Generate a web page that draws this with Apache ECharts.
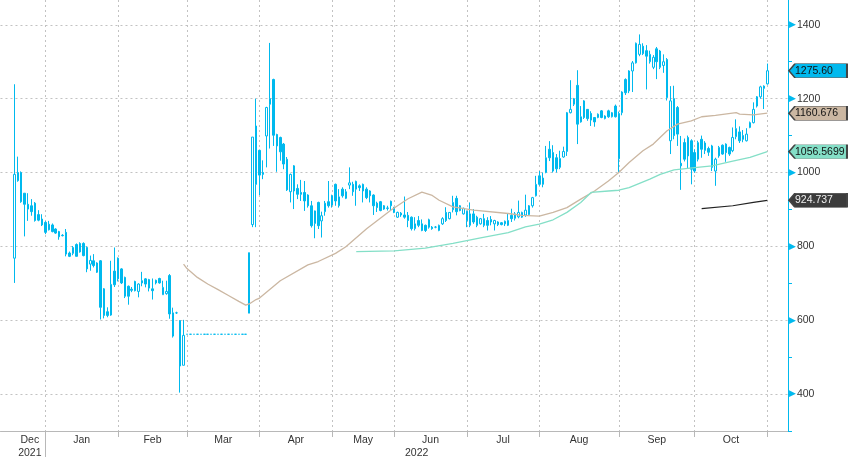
<!DOCTYPE html>
<html><head><meta charset="utf-8">
<script src="https://cdn.jsdelivr.net/npm/echarts@6/dist/echarts.min.js"></script>
<style>html,body{margin:0;padding:0;background:#fff}#c{width:849px;height:459px}</style>
</head><body><div id="c"></div><script>
// ---- data ----
const monthNames = ['Dec','Jan','Feb','Mar','Apr','May','Jun','Jul','Aug','Sep','Oct','Nov'];
const monthStart = [0, 9, 30, 50, 71, 92, 110, 131, 152, 175, 197, 218]; // first bar of each month
const yearNames = ['2021','2022'];
const yearStart = [0, 9];
const yLabelValues = [400, 600, 800, 1000, 1200, 1400];

// daily bars: [open, close, low, high]
const ohlc = [
[768,995,701,1239],[1000,978,975,1043],[1000,921,918,1003],[944,914,827,944],[914,901,869,944],
[910,894,883,928],[917,870,867,920],[886,871,868,898],[874,858,855,887],[865,838,833,868],
[860,845,843,869],[858,840,838,862],[847,836,834,849],[840,826,818,842],[830,829,827,833],
[838,779,773,847],[782,773,771,786],[781,797,776,801],[805,773,773,808],[808,785,783,811],
[808,775,773,811],[797,739,730,800],[752,762,734,775],[761,748,743,779],[755,730,728,757],
[761,635,602,763],[685,613,605,687],[623,613,608,635],[614,697,612,761],[733,696,690,797],
[768,712,705,770],[739,701,698,741],[716,665,660,718],[692,665,642,694],[684,681,676,690],
[705,680,678,707],[678,698,662,700],[707,701,692,731],[712,698,689,714],[710,687,678,712],
[685,680,656,713],[708,701,697,710],[713,701,699,715],[669,689,669,707],[672,678,669,707],
[721,617,604,725],[557,620,553,634],[620,620,617,623],[599,476,404,600],[478,559,478,601],
[562,562,562,562],[562,562,562,562],[562,562,562,562],[562,562,562,562],[562,562,562,562],
[562,562,562,562],[562,562,562,562],[562,562,562,562],[562,562,562,562],[562,562,562,562],
[562,562,562,562],[562,562,562,562],[562,562,562,562],[562,562,562,562],[562,562,562,562],
[562,562,562,562],[562,562,562,562],[562,562,562,562],
[619,783,619,783],[859,1096,852,1096],[1126,968,852,1200],[1060,993,939,1062],[1000,995,982,1033],
[1099,1176,1014,1178],[1200,1185,1065,1351],[1252,1101,1072,1254],[1103,1072,1002,1105],[1095,1056,1032,1097],
[1077,1023,1009,1080],[1036,953,950,1042],[948,995,919,997],[1018,950,901,1020],[957,941,928,968],
[946,941,923,980],[946,923,896,977],[939,910,905,941],[910,856,851,923],[862,896,822,897],
[919,856,847,921],[869,883,824,894],[894,917,883,923],[921,910,905,977],[937,912,905,940],
[968,923,910,970],[910,934,905,955],[955,937,932,960],[930,948,928,955],[966,972,955,1014],
[968,948,937,975],[976,955,910,978],[964,959,950,968],[968,950,919,970],[955,932,928,960],
[950,937,919,952],[939,910,885,941],[917,905,893,921],[921,897,895,923],[910,901,899,912],
[904,903,897,910],[922,910,897,924],[905,892,890,907],[879,892,877,894],[890,885,880,893],
[885,879,875,935],[884,870,852,893],[879,848,843,881],[848,861,843,879],[870,857,852,882],
[861,843,841,873],[857,843,839,859],[872,852,848,875],[852,848,845,855],[852,852,849,855],
[843,857,841,859],[861,875,858,879],[892,870,866,906],[875,892,873,893],[899,919,892,937],
[930,894,884,937],[910,897,895,912],[888,903,886,905],[895,870,852,897],[857,888,852,919],
[888,866,861,901],[879,857,852,883],[861,875,859,877],[875,857,852,888],[870,857,843,879],
[873,866,857,882],[861,870,843,872],[866,859,855,868],[864,859,857,866],[861,868,855,870],
[857,870,855,888],[884,875,866,902],[876,888,870,893],[880,892,876,924],[879,892,877,894],
[885,898,880,940],[886,910,884,912],[910,932,905,934],[937,968,935,991],[991,968,964,1004],
[968,985,960,1000],[1000,1040,998,1072],[1063,1040,1031,1085],[1054,1004,1000,1074],[1040,1010,1000,1050],
[1014,1038,1009,1059],[1042,1057,1040,1070],[1057,1162,1045,1164],[1162,1171,1160,1250],[1185,1200,1180,1202],
[1236,1131,1077,1277],[1137,1151,1135,1180],[1194,1149,1145,1196],[1171,1146,1140,1172],[1160,1142,1126,1166],
[1149,1137,1124,1150],[1149,1158,1147,1160],[1167,1149,1147,1169],[1146,1153,1144,1155],[1167,1151,1148,1170],
[1151,1162,1149,1164],[1180,1151,1149,1184],[1037,1160,1000,1165],[1162,1218,1155,1220],[1252,1216,1210,1255],
[1221,1275,1215,1277],[1275,1297,1218,1302],[1297,1350,1295,1352],[1320,1347,1315,1374],[1342,1322,1318,1350],
[1330,1315,1225,1345],[1300,1320,1295,1330],[1285,1312,1280,1318],[1335,1300,1253,1340],[1329,1285,1280,1332],
[1290,1300,1270,1320],[1306,1203,1195,1310],[1086,1194,1050,1234],[1200,1100,1090,1235],[1176,1104,1072,1180],
[1025,1018,953,1099],[1081,1036,1030,1092],[1095,1045,1010,1100],[1086,1009,968,1090],[1054,1004,999,1063],
[1036,1081,1030,1086],[1090,1063,1040,1100],[1080,1060,1050,1085],[1065,1055,1045,1070],[1072,1014,1004,1075],
[1004,1036,964,1040],[1045,1068,1040,1072],[1074,1050,1048,1076],[1077,1054,1029,1079],[1068,1050,1045,1070],
[1059,1095,1055,1122],[1097,1119,1090,1144],[1110,1086,1080,1125],[1100,1090,1082,1115],[1086,1104,1084,1120],
[1122,1135,1120,1138],[1135,1171,1133,1190],[1205,1180,1176,1207],[1205,1232,1200,1235],[1234,1228,1172,1236],
[1240,1275.6,1238,1295]
];

// moving averages: [bar index, value]
const ma50 = [[49,752],[50,740],[53,716],[56,698],[59,683],[62,667],[65,651],[67,641],[68,644],[70,656],
[71,660],[77,707],[85,750],[88,759],[93,781],[96,799],[102,848],[109,898],[114,929],[118,947],[121,938],
[123,925],[127,907],[133,898],[143,889],[147,884],[152,882],[156,892],[160,905],[164,928],[168,950],
[172,977],[175,1000],[178,1027],[182,1059],[185,1077],[189,1113],[192,1131],[196,1140],[199,1151],
[203,1155],[209,1162],[210,1158],[214,1156],[218,1160.676]];
const ma100 = [[99,786],[110,788],[119,795],[127,808],[135,823],[143,837],[148,853],[152,860],[156,872],
[160,892],[164,919],[167,946],[172,950],[175,952],[178,959],[184,982],[187,995],[191,1007],[197,1013],
[202,1018],[208,1031],[213,1041],[218,1056.5699]];
const ma200 = [[199,902],[208,910],[214,919],[218,924.737]];
const lastTags = {close:'1275.60', ma50:'1160.676', ma100:'1056.5699', ma200:'924.737'};

// ---- build ----
const CYAN = '#00B9EE', TAN = '#CBB7A2', MINT = '#84DFC7', BLACK = '#222222';
const GRID = '#c2c2c2';
const FONT = 'Liberation Sans';
const PADL = 4, PADR = 6;
const nBars = ohlc.length;
const cats = [];
for (let i = 0; i < PADL; i++) cats.push('');
monthStart.forEach((s, m) => {
  const e = m + 1 < monthStart.length ? monthStart[m + 1] : nBars;
  for (let k = s; k < e; k++) cats.push(monthNames[m] + ' ' + (k - s + 1));
});
for (let i = 0; i < PADR; i++) cats.push('');
const lastCat = cats.length - 1;

const gridSet = new Set(monthStart.slice(1).map(s => s + PADL));
const monthLabelAt = {};
for (let m = 0; m < monthStart.length - 1; m++) {
  const mid = (monthStart[m] + monthStart[m + 1]) / 2 + PADL;
  monthLabelAt[Math.floor(mid)] = {t: monthNames[m], half: mid % 1 !== 0};
}
const yearTickSet = new Set(yearStart.slice(1).map(s => s + PADL));
const yearLabelAt = {};
yearStart.forEach((s, y) => {
  const e = y + 1 < yearStart.length ? yearStart[y + 1] + PADL : lastCat;
  const mid = (s + PADL + e) / 2;
  yearLabelAt[Math.floor(mid)] = {t: yearNames[y], half: mid % 1 !== 0};
});

const candleData = [];
for (let i = 0; i < PADL; i++) candleData.push(['-','-','-','-']);
ohlc.forEach(d => candleData.push(d));

const toLine = arr => arr.map(p => [p[0] + PADL, p[1]]);
const endCat = cats[nBars - 1 + PADL];

function tag(value, label, bg, fg) {
  return {
    symbol: 'path://M0,7L6,0L58,0L58,14L6,14Z',
    symbolSize: [58, 14],
    symbolOffset: [50.7, 0],
    silent: true,
    data: [{coord: [endCat, value], value: label}],
    itemStyle: {color: bg, borderColor: '#444', borderWidth: 1},
    label: {show: true, position: 'insideLeft', distance: 7, formatter: '{c}',
            color: fg, fontSize: 10.5, fontFamily: FONT}
  };
}

const labelRich = {n: {fontSize: 10.5, fontFamily: FONT, color: '#333'},
                   h: {fontSize: 10.5, fontFamily: FONT, color: '#333', padding: [0,0,0,3.5]}};

const option = {
  animation: false,
  backgroundColor: '#fff',
  grid: {left: 0.48, right: 61, top: 0, bottom: 24.5, containLabel: false},
  xAxis: [{
    type: 'category', data: cats, boundaryGap: false,
    axisLine: {show: true, lineStyle: {color: '#b8b8b8', width: 1}},
    axisTick: {show: true, interval: i => gridSet.has(i), length: 6, lineStyle: {color: '#b8b8b8'}},
    splitLine: {show: true, interval: i => gridSet.has(i), lineStyle: {color: GRID, type: [2, 3], width: 1}},
    axisLabel: {interval: i => i in monthLabelAt, margin: 4,
      formatter: (v, i) => { const o = monthLabelAt[i]; return o ? (o.half ? '{h|' : '{n|') + o.t + '}' : ''; },
      rich: labelRich}
  }, {
    type: 'category', data: cats, boundaryGap: false, position: 'bottom',
    axisLine: {show: false},
    axisTick: {show: true, interval: i => yearTickSet.has(i), length: 26, lineStyle: {color: '#b8b8b8'}},
    splitLine: {show: false},
    axisLabel: {interval: i => i in yearLabelAt, margin: 17,
      formatter: (v, i) => { const o = yearLabelAt[i]; return o ? (o.half ? '{h|' : '{n|') + o.t + '}' : ''; },
      rich: labelRich}
  }],
  yAxis: {
    type: 'value', position: 'right', min: 300, max: 1467.2, interval: 100,
    axisLine: {show: true, lineStyle: {color: CYAN, width: 1}},
    axisTick: {show: true, length: 4, lineStyle: {color: CYAN}},
    splitLine: {show: true, lineStyle: {color: ['rgba(0,0,0,0)', GRID], type: [2, 3], width: 1}},
    axisLabel: {margin: 1, showMaxLabel: false,
      formatter: v => yLabelValues.includes(v) ? '{t|▶}{n|' + v + '}' : '',
      rich: {t: {color: CYAN, fontSize: 9, fontFamily: 'DejaVu Sans', padding: [0, 1, 0, 0]},
             n: {color: '#333', fontSize: 10.5, fontFamily: FONT}}}
  },
  series: [{
    type: 'candlestick', data: candleData, barWidth: 2,
    itemStyle: {color: '#ffffff', color0: CYAN, borderColor: CYAN, borderColor0: CYAN, borderColorDoji: CYAN, borderWidth: 1},
    markPoint: tag(ohlc[nBars - 1][1], lastTags.close, CYAN, '#111')
  }, {
    type: 'line', data: toLine(ma50), showSymbol: false, symbol: 'none',
    lineStyle: {color: TAN, width: 1.3}, z: 3,
    markPoint: tag(ma50[ma50.length - 1][1], lastTags.ma50, TAN, '#111')
  }, {
    type: 'line', data: toLine(ma100), showSymbol: false, symbol: 'none',
    lineStyle: {color: MINT, width: 1.3}, z: 3,
    markPoint: tag(ma100[ma100.length - 1][1], lastTags.ma100, MINT, '#111')
  }, {
    type: 'line', data: toLine(ma200), showSymbol: false, symbol: 'none',
    lineStyle: {color: BLACK, width: 1.2}, z: 3,
    markPoint: tag(ma200[ma200.length - 1][1], lastTags.ma200, '#3c3c3c', '#f0f0f0')
  }]
};
const chart = echarts.init(document.getElementById('c'), null, {renderer: 'canvas'});
chart.setOption(option);
</script></body></html>
